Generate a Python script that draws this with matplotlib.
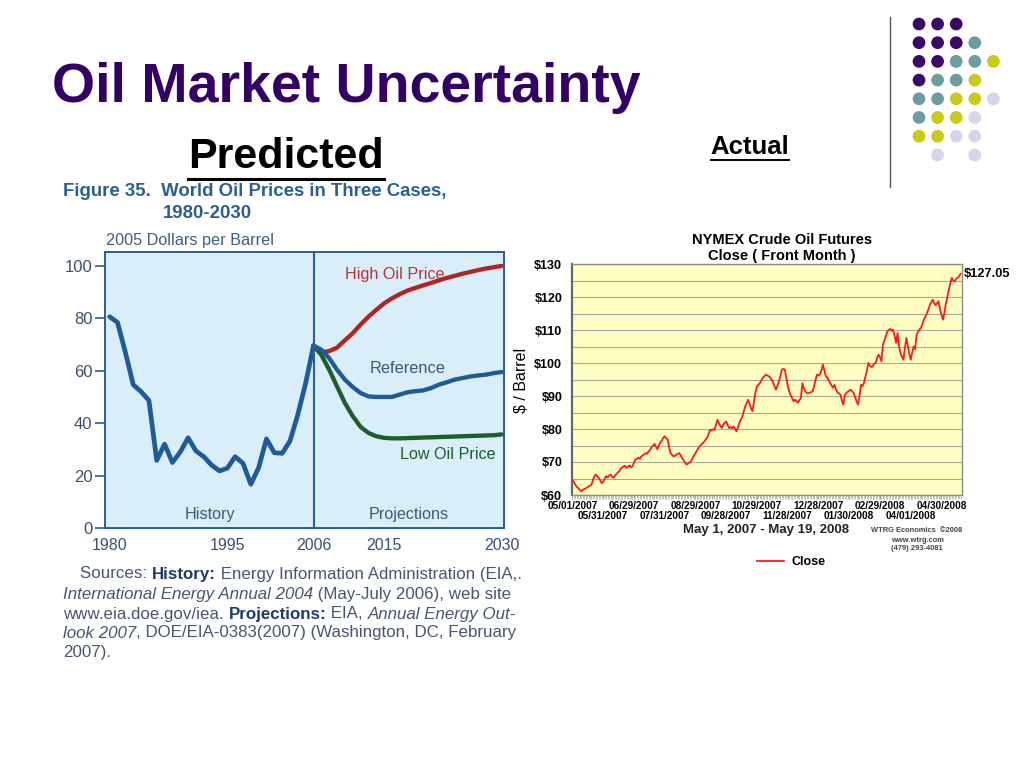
import matplotlib
matplotlib.use('Agg')
import matplotlib.pyplot as plt
import matplotlib.transforms as mtransforms
import numpy as np
from matplotlib.lines import Line2D

plt.rcParams['font.family'] = ['Liberation Sans', 'DejaVu Sans']

# ---- data: EIA world oil prices (2005 $/bbl) ----
hist_years = list(range(1980, 2007))
hist_price = [80.6, 78.4, 67.0, 54.7, 52.0, 48.7, 25.8, 32.0, 25.0, 29.0,
              34.4, 29.4, 27.2, 24.0, 21.8, 22.8, 27.2, 24.7, 16.7, 23.0,
              34.0, 28.7, 28.5, 33.2, 43.3, 55.3, 69.6]
proj_years = list(range(2006, 2031))
high_case = [69.6, 67.0, 67.5, 68.8, 71.6, 74.3, 77.6, 80.6, 83.2, 85.7,
             87.6, 89.2, 90.6, 91.6, 92.6, 93.5, 94.5, 95.4, 96.2, 97.0,
             97.7, 98.4, 99.0, 99.5, 100.0]
ref_case = [69.6, 68.0, 64.8, 60.4, 56.6, 53.8, 51.5, 50.2, 50.0, 50.0,
            50.0, 50.9, 51.8, 52.2, 52.5, 53.4, 54.7, 55.6, 56.6, 57.2,
            57.8, 58.2, 58.5, 59.1, 59.5]
low_case = [69.6, 66.0, 60.4, 54.0, 47.7, 42.7, 38.6, 36.3, 35.0, 34.4,
            34.2, 34.2, 34.3, 34.4, 34.5, 34.6, 34.7, 34.8, 34.9, 35.0,
            35.1, 35.2, 35.3, 35.4, 35.7]

# ---- data: NYMEX front month close, May 1 2007 - May 19 2008 (trading days) ----
close = [64.6, 63.9, 63.2, 62.4, 62.1, 61.5, 61.1, 61.6, 61.8, 62.0,
         62.3, 62.6, 62.9, 63.1, 64.6, 65.7, 66.2, 65.6, 65.2, 64.4,
         63.6, 64.0, 64.9, 65.7, 65.3, 65.9, 66.2, 65.6, 65.2, 65.8,
         66.4, 66.8, 67.2, 68.0, 68.4, 68.7, 68.9, 68.2, 68.5, 69.0,
         68.4, 68.7, 69.8, 70.7, 70.9, 71.3, 71.0, 71.7, 72.0, 72.4,
         72.7, 72.5, 73.2, 73.7, 74.6, 74.8, 75.5, 74.7, 73.9, 75.0,
         76.0, 76.5, 77.3, 77.8, 77.2, 76.8, 74.5, 72.7, 72.2, 71.7,
         71.9, 72.2, 72.5, 72.7, 71.9, 71.2, 70.5, 69.8, 69.2, 69.5,
         69.9, 70.2, 71.2, 72.0, 72.7, 73.5, 74.2, 74.8, 75.3, 75.7,
         76.2, 76.8, 77.3, 78.6, 79.8, 79.5, 79.9, 79.8, 81.2, 82.8,
         81.8, 80.9, 80.3, 81.4, 81.9, 82.3, 81.2, 80.3, 80.6, 80.2,
         80.8, 80.1, 79.3, 80.4, 81.9, 82.9, 83.8, 85.3, 86.9, 87.9,
         88.9, 87.6, 86.2, 85.4, 88.5, 91.2, 92.9, 93.4, 93.9, 94.8,
         95.5, 95.9, 96.5, 96.2, 96.0, 95.6, 95.0, 94.2, 93.0, 91.9,
         93.2, 94.4, 96.2, 98.0, 98.2, 98.0, 95.6, 93.2, 91.4, 90.2,
         89.4, 88.4, 88.9, 88.4, 88.0, 88.8, 89.4, 93.9, 92.3, 91.5,
         90.9, 90.8, 91.0, 91.2, 91.4, 93.0, 95.0, 96.5, 96.2, 96.5,
         97.8, 99.5, 97.8, 96.0, 95.6, 94.8, 93.9, 93.1, 92.5, 93.4,
         91.9, 91.0, 90.8, 90.4, 88.6, 87.4, 90.4, 90.9, 91.3, 91.6,
         91.9, 91.4, 90.9, 89.6, 88.5, 87.4, 89.8, 93.4, 93.0, 93.9,
         95.8, 97.5, 100.0, 99.2, 98.8, 99.0, 99.8, 100.0, 101.6, 102.5,
         101.8, 100.5, 105.6, 106.8, 108.2, 109.5, 110.1, 110.3, 109.8, 110.1,
         108.0, 106.1, 109.1, 105.0, 103.0, 101.8, 101.0, 104.5, 107.6, 105.2,
         102.8, 101.0, 103.2, 105.0, 104.2, 108.6, 109.5, 110.2, 110.6, 112.0,
         113.2, 114.1, 115.0, 116.2, 117.5, 118.4, 119.2, 118.1, 117.5, 118.2,
         118.7, 116.3, 114.6, 113.1, 115.2, 118.0, 120.1, 122.2, 124.1, 125.8,
         125.0, 124.7, 125.6, 125.8, 126.3, 127.05]
date_labels = ['05/01/2007', '05/31/2007', '06/29/2007', '07/31/2007', '08/29/2007',
               '09/28/2007', '10/29/2007', '11/28/2007', '12/28/2007', '01/30/2008',
               '02/29/2008', '04/01/2008', '04/30/2008']

# decorative dot grid (P purple, T teal, Y yellow, L lavender)
dot_rows = ['PPP..', 'PPPT.', 'PPTTY', 'PTTY.', 'TTYYL', 'TYYL.', 'YYLL.', '.L.L.']
dot_colors = {'P': '#3a0a68', 'T': '#6b9ea0', 'Y': '#c9c918', 'L': '#d6d6ea'}

W, H = 1023, 767
fig = plt.figure(figsize=(W / 100, H / 100), dpi=100)


def fx(px):
    return px / W


def fy(py):
    return 1 - py / H


# ---------------- left chart ----------------
blue = '#1f5b97'
axc = '#2a5f8f'
txtc = '#3b5a7a'
axL = fig.add_axes([fx(105), fy(528), (504 - 105) / W, (528 - 252) / H])
axL.set_facecolor('#d9eef9')
axL.plot(hist_years, hist_price, color=blue, lw=3.4, solid_joinstyle='round', solid_capstyle='round')
axL.plot(proj_years, high_case, color='#b02424', lw=3.1, solid_capstyle='round')
axL.plot(proj_years, low_case, color='#1e5e2a', lw=3.1, solid_capstyle='round')
axL.plot(proj_years, ref_case, color=blue, lw=3.1, solid_capstyle='round')
axL.axvline(2006, color=axc, lw=1.5)
axL.set_xlim(1979.4, 2030.3)
axL.set_ylim(0, 105.3)
axL.set_yticks([0, 20, 40, 60, 80, 100])
axL.set_xticks([1980, 1995, 2006, 2015, 2030])
axL.tick_params(axis='y', direction='out', length=7, width=1.2, color=axc,
                labelsize=12, labelcolor='#3a5070', pad=2)
axL.tick_params(axis='x', length=0, labelsize=11.5, labelcolor='#3a5070', pad=7)
for s in axL.spines.values():
    s.set_color(axc)
    s.set_linewidth(1.4)
axL.text(2016.4, 96.6, 'High Oil Price', color='#b83232', fontsize=11.6, ha='center', va='center')
axL.text(2018.0, 60.7, 'Reference', color=txtc, fontsize=11.8, ha='center', va='center')
axL.text(2023.1, 28.2, 'Low Oil Price', color='#1e5e2a', fontsize=11.6, ha='center', va='center')
axL.text(1992.8, 5, 'History', color=txtc, fontsize=11.6, ha='center', va='center')
axL.text(2018.2, 5, 'Projections', color=txtc, fontsize=11.6, ha='center', va='center')

fig.text(fx(63), fy(191), 'Figure 35.  World Oil Prices in Three Cases,', fontsize=13.4,
         weight='bold', color='#2b5f94', va='center')
fig.text(fx(163), fy(213), '1980-2030', fontsize=13.4, weight='bold', color='#2b5f94', va='center')
fig.text(fx(106), fy(240), '2005 Dollars per Barrel', fontsize=11.7, color='#3d5f80', va='center')

# ---------------- right chart ----------------
axR = fig.add_axes([fx(572), fy(495), (962 - 572) / W, (495 - 264) / H])
axR.set_facecolor('#ffffc4')
days = np.arange(len(close))
axR.plot(days, close, color='#ff1a1a', lw=1.3, label='Close', zorder=3)
axR.set_xlim(-0.3, 266)
axR.set_ylim(60, 130)
axR.set_yticks(range(60, 131, 10))
axR.set_yticks(range(65, 130, 10), minor=True)
axR.set_yticklabels(['$%d' % v for v in range(60, 131, 10)], fontweight='bold')
axR.yaxis.grid(True, which='both', color='#a8a898', lw=0.8)
axR.tick_params(axis='y', which='both', length=0, labelsize=9, pad=7)
major_days = list(range(0, 21 * len(date_labels), 21))
axR.set_xticks(major_days)
axR.set_xticklabels([])
axR.set_xticks(range(0, 266), minor=True)
axR.tick_params(axis='x', which='major', length=3, color='#aaaaaa')
axR.tick_params(axis='x', which='minor', length=3, color='#bbbbbb', width=0.6)
# staggered date labels in two rows
trans = mtransforms.blended_transform_factory(axR.transData, axR.transAxes)
for i, (d, lab) in enumerate(zip(major_days, date_labels)):
    yrow = -0.046 if i % 2 == 0 else -0.093
    axR.text(d, yrow, lab, transform=trans, fontsize=7.2, weight='bold',
             ha='center', va='center', clip_on=False)
for s in axR.spines.values():
    s.set_color('#8c8c8c')
    s.set_linewidth(1.0)
axR.spines['left'].set_color('#666666')
axR.spines['left'].set_linewidth(1.6)
axR.annotate('$127.05', xy=(days[-1], close[-1]), xytext=(2, 0), textcoords='offset points',
             fontsize=9.3, weight='bold', va='center', annotation_clip=False)

fig.text(fx(782), fy(240), 'NYMEX Crude Oil Futures', fontsize=10.5, weight='bold', ha='center', va='center')
fig.text(fx(782), fy(256), 'Close ( Front Month )', fontsize=10.5, weight='bold', ha='center', va='center')
fig.text(fx(521), fy(380), '$ / Barrel', fontsize=11.5, rotation=90, ha='center', va='center')
fig.text(fx(766), fy(530), 'May 1, 2007 - May 19, 2008', fontsize=9.5, weight='bold',
         ha='center', va='center', color='#222222')
for txt, yy in [('WTRG Economics  \u00a92008', 531), ('www.wtrg.com', 540), ('(479) 293-4081', 549)]:
    fig.text(fx(917), fy(yy), txt, fontsize=5.4, weight='bold', ha='center', va='center', color='#444444')
axR.legend(loc='center', bbox_to_anchor=(fx(791), fy(562)), bbox_transform=fig.transFigure,
           frameon=False, handlelength=2.2, handletextpad=0.6, prop={'weight': 'bold', 'size': 9})

# ---------------- slide texts ----------------
fig.text(fx(52), fy(88), 'Oil Market Uncertainty', fontsize=40, weight='bold', color='#330066',
         va='center', ha='left')
t_pred = fig.text(fx(286), fy(157), 'Predicted', fontsize=31, weight='bold', ha='center', va='center')
t_act = fig.text(fx(750), fy(147), 'Actual', fontsize=18.5, weight='bold', ha='center', va='center')

renderer = fig.canvas.get_renderer()
for t, yline, lw in [(t_pred, 179, 2.2), (t_act, 160, 1.4)]:
    bb = t.get_window_extent(renderer)
    fig.add_artist(Line2D([bb.x0 / W, bb.x1 / W], [fy(yline), fy(yline)], color='black', lw=lw))

# sources paragraph with mixed styles
src_color = '#46566e'
src_bold = '#1f3a6a'
src_lines = [
    (80, 574, [('Sources: ', 'normal', 'normal'), ('History:', 'bold', 'normal'),
               (' Energy Information Administration (EIA,.', 'normal', 'normal')]),
    (63, 594, [('International Energy Annual 2004', 'normal', 'italic'),
               (' (May-July 2006), web site', 'normal', 'normal')]),
    (63, 614, [('www.eia.doe.gov/iea. ', 'normal', 'normal'), ('Projections:', 'bold', 'normal'),
               (' EIA, ', 'normal', 'normal'), ('Annual Energy Out-', 'normal', 'italic')]),
    (63, 633, [('look 2007', 'normal', 'italic'),
               (', DOE/EIA-0383(2007) (Washington, DC, February', 'normal', 'normal')]),
    (63, 653, [('2007).', 'normal', 'normal')]),
]
for x0, yy, pieces in src_lines:
    xpos = x0
    for txt, wt, st in pieces:
        t = fig.text(fx(xpos), fy(yy), txt, fontsize=12.2, weight=wt, style=st,
                     color=src_bold if wt == 'bold' else src_color, va='center', ha='left')
        bb = t.get_window_extent(renderer)
        xpos += bb.width

# ---------------- decoration: rule + dot grid ----------------
fig.add_artist(Line2D([fx(890), fx(890)], [fy(17), fy(187)], color='#555555', lw=1.0))
axD = fig.add_axes([0, 0, 1, 1], zorder=-1)
axD.set_xlim(0, W)
axD.set_ylim(H, 0)
axD.axis('off')
for r, row in enumerate(dot_rows):
    for c, ch in enumerate(row):
        if ch in dot_colors:
            axD.scatter(919 + c * 18.6, 24 + r * 18.7, s=84, color=dot_colors[ch], edgecolors='none')

fig.savefig('out.png', dpi=100)
